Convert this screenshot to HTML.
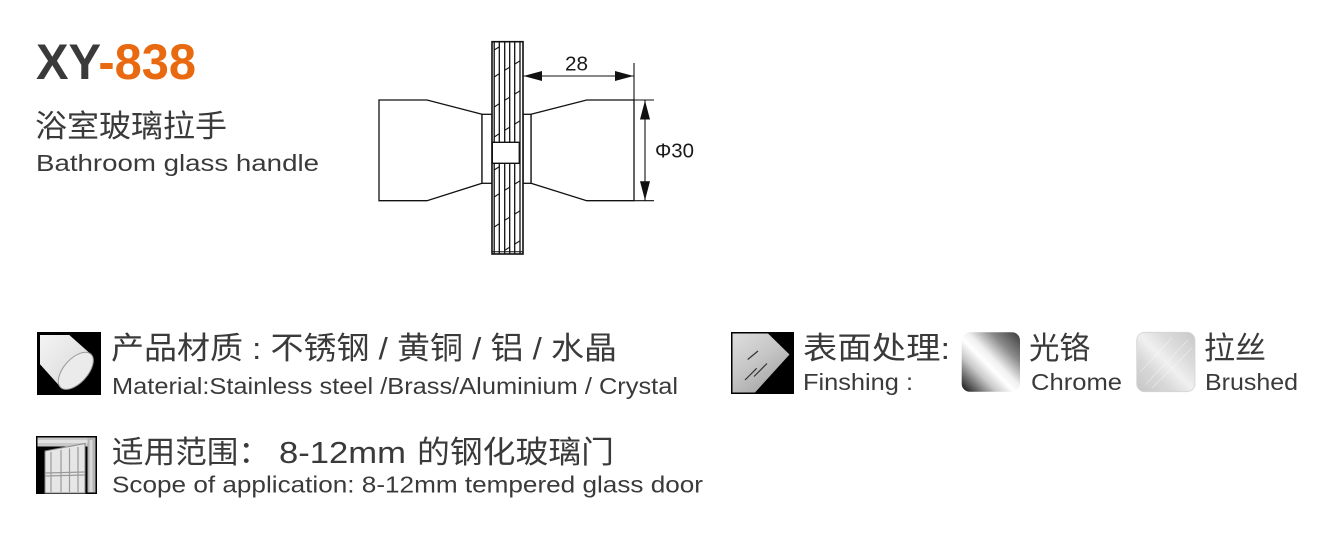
<!DOCTYPE html>
<html>
<head>
<meta charset="utf-8">
<style>
html,body{margin:0;padding:0;background:#fff;}
svg{display:block;}
text{font-family:"Liberation Sans","Noto Sans CJK SC",sans-serif;}
</style>
</head>
<body>
<svg width="1333" height="548" viewBox="0 0 1333 548" xmlns="http://www.w3.org/2000/svg">
<defs>
  <linearGradient id="cyl" x1="0" y1="0" x2="1" y2="1">
    <stop offset="0" stop-color="#f4f4f4"/>
    <stop offset="0.6" stop-color="#e2e2e2"/>
    <stop offset="1" stop-color="#c4c4c4"/>
  </linearGradient>
  <linearGradient id="pent" x1="0" y1="0" x2="0.7" y2="1">
    <stop offset="0" stop-color="#dedede"/>
    <stop offset="0.5" stop-color="#c6c6c6"/>
    <stop offset="1" stop-color="#a4a4a4"/>
  </linearGradient>
  <linearGradient id="chrome" x1="1" y1="0" x2="0" y2="1">
    <stop offset="0" stop-color="#3a3a3a"/>
    <stop offset="0.25" stop-color="#8a8a8a"/>
    <stop offset="0.45" stop-color="#f0f0f0"/>
    <stop offset="0.55" stop-color="#ffffff"/>
    <stop offset="0.7" stop-color="#c8c8c8"/>
    <stop offset="0.85" stop-color="#6a6a6a"/>
    <stop offset="1" stop-color="#0e0e0e"/>
  </linearGradient>
  <linearGradient id="brushed" x1="1" y1="0" x2="0" y2="1">
    <stop offset="0" stop-color="#c8c8c8"/>
    <stop offset="0.3" stop-color="#dcdcdc"/>
    <stop offset="0.5" stop-color="#f0f0f0"/>
    <stop offset="0.7" stop-color="#d8d8d8"/>
    <stop offset="1" stop-color="#c6c6c6"/>
  </linearGradient>
</defs>

<!-- Title -->
<text x="36" y="79" font-size="50" font-weight="bold" textLength="160" lengthAdjust="spacingAndGlyphs"><tspan fill="#3a3a3a">XY</tspan><tspan fill="#e8690f">-838</tspan></text>
<text x="35" y="137" font-size="31" fill="#3a3a3a" textLength="192" lengthAdjust="spacingAndGlyphs">浴室玻璃拉手</text>
<text x="36" y="171" font-size="23.5" fill="#3a3a3a" textLength="283" lengthAdjust="spacingAndGlyphs">Bathroom glass handle</text>

<!-- Technical drawing -->
<g fill="none" stroke="#111" stroke-width="1.3" stroke-linejoin="miter">
  <polygon points="379,100 427,100 482,114.3 482,183.3 427,200.7 379,200.7" fill="#fff"/>
  <rect x="482" y="114.3" width="10" height="69" fill="#fff"/>
  <polygon points="531,114.3 586.7,100 634,100 634,200.7 586.7,200.7 531,183.3" fill="#fff"/>
  <rect x="523" y="114.3" width="8" height="69" fill="#fff"/>
  <rect x="492" y="41.7" width="31" height="212.3" fill="#fff" stroke-width="1.6"/>
  <line x1="494.2" y1="41.7" x2="494.2" y2="254"/>
  <line x1="499.3" y1="41.7" x2="499.3" y2="254"/>
  <line x1="504.7" y1="41.7" x2="504.7" y2="254"/>
  <line x1="509.7" y1="41.7" x2="509.7" y2="254"/>
  <line x1="514.7" y1="41.7" x2="514.7" y2="254"/>
  <line x1="520" y1="41.7" x2="520" y2="254"/>
  <line x1="492" y1="251.8" x2="523" y2="251.8" stroke-width="1"/>
  <g stroke-width="1.1">
    <line x1="494.2" y1="50" x2="499.3" y2="46.8"/>
    <line x1="494.2" y1="77" x2="499.3" y2="73.7"/>
    <line x1="504.7" y1="70.3" x2="509.7" y2="67.2"/>
    <line x1="514.7" y1="64.1" x2="520" y2="60.8"/>
    <line x1="494.2" y1="107" x2="499.3" y2="103.7"/>
    <line x1="504.7" y1="100.3" x2="509.7" y2="97.2"/>
    <line x1="514.7" y1="94.1" x2="520" y2="90.8"/>
    <line x1="494.2" y1="137" x2="499.3" y2="133.7"/>
    <line x1="504.7" y1="130.3" x2="509.7" y2="127.2"/>
    <line x1="514.7" y1="124.1" x2="520" y2="120.8"/>
    <line x1="494.2" y1="170" x2="499.3" y2="166.7"/>
    <line x1="504.7" y1="163.3" x2="509.7" y2="160.2"/>
    <line x1="494.2" y1="197" x2="499.3" y2="193.7"/>
    <line x1="504.7" y1="190.3" x2="509.7" y2="187.2"/>
    <line x1="514.7" y1="184.1" x2="520" y2="180.8"/>
    <line x1="494.2" y1="227" x2="499.3" y2="223.7"/>
    <line x1="504.7" y1="220.3" x2="509.7" y2="217.2"/>
    <line x1="514.7" y1="214.1" x2="520" y2="210.8"/>
    <line x1="504.7" y1="250.3" x2="509.7" y2="247.2"/>
    <line x1="514.7" y1="244.1" x2="520" y2="240.8"/>
  </g>
  <rect x="492.3" y="142.3" width="27" height="21" fill="#fff" stroke-width="1.4"/>
  <line x1="523" y1="76" x2="634" y2="76" stroke-width="1.1"/>
  <line x1="634" y1="63" x2="634" y2="100" stroke-width="1.1"/>
  <line x1="645" y1="100" x2="645" y2="200.7" stroke-width="1.1"/>
  <line x1="634" y1="100" x2="654" y2="100" stroke-width="1.1"/>
  <line x1="634" y1="200.7" x2="654" y2="200.7" stroke-width="1.1"/>
</g>
<g fill="#111" stroke="none">
  <polygon points="523.5,76 542,71 542,81"/>
  <polygon points="633.5,76 615,71 615,81"/>
  <polygon points="645,100.5 640,119.5 650,119.5"/>
  <polygon points="645,200.2 640,181.2 650,181.2"/>
</g>
<text x="565" y="70.7" font-size="20" fill="#1a1a1a" textLength="23" lengthAdjust="spacingAndGlyphs">28</text>
<text x="655" y="157.7" font-size="20" fill="#1a1a1a" textLength="39" lengthAdjust="spacingAndGlyphs">Φ30</text>

<!-- Material icon -->
<rect x="37" y="332" width="64" height="63" fill="#000"/>
<polygon points="40,335 69.3,335 91,354.3 60.7,387.3 40,364.3" fill="url(#cyl)"/>
<ellipse cx="75.8" cy="370.8" rx="22.5" ry="12" transform="rotate(-48 75.8 370.8)" fill="#ebebeb" stroke="#9a9a9a" stroke-width="1"/>

<text x="111" y="359" font-size="31" fill="#3a3a3a" textLength="506" lengthAdjust="spacingAndGlyphs">产品材质 : 不锈钢 / 黄铜 / 铝 / 水晶</text>
<text x="112" y="394" font-size="23.5" fill="#3a3a3a" textLength="566" lengthAdjust="spacingAndGlyphs">Material:Stainless steel /Brass/Aluminium / Crystal</text>

<!-- Door icon -->
<rect x="36" y="436" width="61" height="58" fill="#000"/>
<rect x="37.5" y="437.5" width="58" height="9" fill="#c8c8c8"/>
<rect x="37.5" y="440" width="50" height="3" fill="#e2e2e2"/>
<rect x="87.5" y="437.5" width="8" height="55" fill="#b4b4b4"/>
<rect x="89.5" y="440" width="3" height="52" fill="#d8d8d8"/>
<polygon points="45,451 85,443.5 85,493 45,493" fill="#e6e6e6" stroke="#8a8a8a" stroke-width="1"/>
<g stroke="#9a9a9a" stroke-width="1.2" fill="none">
  <line x1="51" y1="452" x2="51" y2="492"/>
  <line x1="61" y1="450" x2="61" y2="492"/>
  <line x1="69.5" y1="448.5" x2="69.5" y2="492"/>
  <line x1="78" y1="447" x2="78" y2="492"/>
  <line x1="45" y1="473" x2="85" y2="472"/>
  <line x1="45" y1="476" x2="85" y2="475"/>
</g>

<text x="112" y="463" font-size="31" fill="#3a3a3a" textLength="158" lengthAdjust="spacingAndGlyphs">适用范围：</text>
<text x="279" y="463" font-size="31" fill="#3a3a3a" textLength="127" lengthAdjust="spacingAndGlyphs">8-12mm</text>
<text x="417" y="463" font-size="31" fill="#3a3a3a" textLength="197" lengthAdjust="spacingAndGlyphs">的钢化玻璃门</text>
<text x="112" y="492.5" font-size="23.5" fill="#3a3a3a" textLength="591" lengthAdjust="spacingAndGlyphs">Scope of application: 8-12mm tempered glass door</text>

<!-- Finishing icon -->
<rect x="731" y="332" width="63" height="62" fill="#000"/>
<polygon points="732.5,333.5 768,333.5 789.5,354.5 755,392.5 732.5,392.5" fill="url(#pent)"/>
<g stroke="#333" stroke-width="1.2">
  <line x1="747.7" y1="359.5" x2="758" y2="351"/>
  <line x1="745" y1="380" x2="756.7" y2="368.3"/>
  <line x1="754" y1="376.5" x2="767" y2="363.5"/>
</g>

<text x="803" y="359" font-size="31" fill="#3a3a3a" textLength="147" lengthAdjust="spacingAndGlyphs">表面处理:</text>
<text x="803" y="390" font-size="23.5" fill="#3a3a3a" textLength="110" lengthAdjust="spacingAndGlyphs">Finshing :</text>

<!-- Chrome swatch -->
<rect x="961.7" y="332.3" width="58.3" height="59.4" rx="8" fill="url(#chrome)"/>
<text x="1029" y="359" font-size="31" fill="#3a3a3a" textLength="61" lengthAdjust="spacingAndGlyphs">光铬</text>
<text x="1031" y="390" font-size="23.5" fill="#3a3a3a" textLength="91" lengthAdjust="spacingAndGlyphs">Chrome</text>

<!-- Brushed swatch -->
<rect x="1136.7" y="332.3" width="58.3" height="59.4" rx="8" fill="url(#brushed)" stroke="#d4d4d4" stroke-width="0.8"/>
<g stroke="#ffffff" stroke-width="0.7" opacity="0.45">
  <line x1="1145" y1="385" x2="1188" y2="340"/>
  <line x1="1152" y1="388" x2="1192" y2="348"/>
  <line x1="1140" y1="372" x2="1172" y2="338"/>
</g>
<text x="1204" y="359" font-size="31" fill="#3a3a3a" textLength="62" lengthAdjust="spacingAndGlyphs">拉丝</text>
<text x="1205" y="390" font-size="23.5" fill="#3a3a3a" textLength="93" lengthAdjust="spacingAndGlyphs">Brushed</text>
</svg>
</body>
</html>
